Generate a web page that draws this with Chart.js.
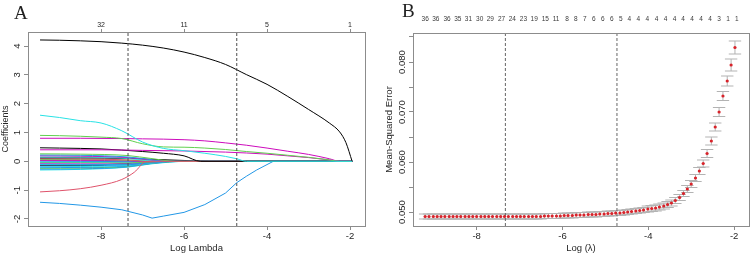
<!DOCTYPE html>
<html>
<head>
<meta charset="utf-8">
<script src="https://cdn.jsdelivr.net/npm/chart.js@4.4.0/dist/chart.umd.min.js"></script>
<style>
  body { margin: 0; background: #fff; width: 753px; height: 254px; position: relative; overflow: hidden; }
  .panel { position: absolute; top: 0; height: 254px; }
  #wrapA { left: 0; width: 376px; }
  #wrapB { left: 376px; width: 377px; }
  .tag { position: absolute; font-family: "Liberation Serif", serif; font-size: 19px; color: #222; line-height: 1; }
</style>
</head>
<body>
<div class="panel" id="wrapA"><canvas id="chartA" width="376" height="254"></canvas></div>
<div class="panel" id="wrapB"><canvas id="chartB" width="377" height="254"></canvas></div>
<div class="tag" style="left:14px;top:3px;">A</div>
<div class="tag" style="left:402px;top:1px;">B</div>
<script>
// --- Panel A: coefficient paths, each path is [logLambda, coefficient] ---
const PALETTE = ['#000000', '#DF536B', '#61D04F', '#2297E6', '#28E2E5', '#CD0BBC'];

const pathCyan = [[-9.47,1.60],[-9,1.52],[-8.5,1.41],[-8,1.33],[-7.5,1.06],[-7,0.67],[-6.5,0.45],[-6,0.37],[-5.5,0.28],[-5,0.17],[-4.73,0.09],[-4.5,0],[-1.95,0]];
const pathBlack = [[-9.47,4.21],[-9,4.20],[-8.5,4.18],[-8,4.15],[-7.5,4.10],[-7,4.03],[-6.5,3.93],[-6,3.79],[-5.5,3.60],[-5,3.36],[-4.5,3.01],[-4,2.67],[-3.5,2.25],[-3,1.80],[-2.5,1.33],[-2.25,1.02],[-2.1,0.65],[-1.95,0]];
const pathGreen = [[-9.47,0.90],[-9,0.89],[-8.5,0.87],[-8,0.84],[-7.5,0.79],[-7,0.61],[-6.5,0.50],[-6,0.49],[-5.5,0.46],[-5,0.41],[-4.5,0.34],[-4,0.28],[-3.5,0.21],[-3,0.14],[-2.5,0.05],[-2.25,0],[-1.95,0]];
const pathMagenta = [[-9.47,0.80],[-8.5,0.80],[-7.5,0.79],[-7,0.78],[-6.5,0.77],[-6,0.75],[-5.5,0.71],[-5,0.64],[-4.5,0.56],[-4,0.46],[-3.5,0.35],[-3,0.24],[-2.5,0.09],[-2.25,0],[-1.95,0]];
const pathPurple = [[-9.47,0.40],[-8,0.40],[-7,0.38],[-6,0.36],[-5,0.32],[-4.5,0.29],[-4,0.25],[-3.5,0.19],[-3,0.13],[-2.5,0.05],[-2.25,0],[-1.95,0]];
const pathDark = [[-9.47,0.47],[-9,0.46],[-8,0.43],[-7.5,0.39],[-7,0.34],[-6.5,0.28],[-6,0.19],[-5.6,0],[-1.95,0]];
const pathRed = [[-9.47,-1.06],[-9,-1.02],[-8.5,-0.95],[-8,-0.83],[-7.5,-0.63],[-7.2,-0.38],[-6.9,0],[-1.95,0]];
const pathBlue = [[-9.47,-1.42],[-9,-1.46],[-8.5,-1.52],[-8,-1.59],[-7.5,-1.68],[-7,-1.86],[-6.77,-1.97],[-6.5,-1.90],[-6,-1.77],[-5.5,-1.50],[-5,-1.10],[-4.73,-0.74],[-4.5,-0.52],[-4.25,-0.30],[-3.85,0],[-1.95,0]];

// small coefficients bundled around zero
const smallPaths = [
  [[-9.47,0.26],[-8.5,0.25],[-7.35,0.20],[-6.8,0.10],[-6.2,0],[-1.95,0]],
  [[-9.47,0.22],[-8.5,0.21],[-7.35,0.15],[-6.8,0.06],[-6.5,0],[-1.95,0]],
  [[-9.47,0.19],[-8.5,0.18],[-7.35,0.13],[-6.8,0.05],[-6.3,0],[-1.95,0]],
  [[-9.47,0.15],[-8.5,0.15],[-7.35,0.10],[-6.9,0.03],[-6.6,0],[-1.95,0]],
  [[-9.47,0.12],[-8.5,0.12],[-7.35,0.10],[-6.8,0.07],[-6.0,0.03],[-5.4,0],[-1.95,0]],
  [[-9.47,0.09],[-8.5,0.08],[-7.35,0.05],[-6.9,0],[-1.95,0]],
  [[-9.47,0.06],[-8.5,0.06],[-7.35,0.04],[-6.8,0.01],[-6.6,0],[-1.95,0]],
  [[-9.47,0.03],[-8.5,0.03],[-7.35,0.02],[-7.0,0],[-1.95,0]],
  [[-9.47,0.01],[-8.5,0.00],[-7.35,-0.01],[-7.0,0],[-1.95,0]],
  [[-9.47,-0.02],[-8.5,-0.02],[-7.35,-0.02],[-6.9,0],[-1.95,0]],
  [[-9.47,-0.04],[-8.5,-0.04],[-7.35,-0.05],[-6.8,-0.02],[-6.4,0],[-1.95,0]],
  [[-9.47,-0.06],[-8.5,-0.06],[-7.35,-0.06],[-6.8,-0.02],[-6.3,0],[-1.95,0]],
  [[-9.47,-0.09],[-8.5,-0.10],[-7.35,-0.10],[-6.8,-0.04],[-6.2,0],[-1.95,0]],
  [[-9.47,-0.11],[-8.5,-0.12],[-7.35,-0.09],[-6.9,-0.03],[-6.5,0],[-1.95,0]],
  [[-9.47,-0.13],[-8.5,-0.13],[-7.35,-0.08],[-6.6,0],[-1.95,0]],
  [[-9.47,-0.16],[-8.5,-0.15],[-7.35,-0.12],[-6.8,-0.05],[-6.4,0],[-1.95,0]],
  [[-9.47,-0.19],[-8.5,-0.18],[-7.35,-0.14],[-6.8,-0.06],[-6.3,0],[-1.95,0]],
  [[-9.47,-0.22],[-8.5,-0.21],[-7.35,-0.16],[-6.8,-0.07],[-6.2,0],[-1.95,0]],
  [[-9.47,-0.24],[-8.5,-0.23],[-7.35,-0.17],[-6.8,-0.07],[-6.1,0],[-1.95,0]],
  [[-9.47,-0.27],[-8.5,-0.26],[-7.35,-0.19],[-6.8,-0.08],[-6.0,0],[-1.95,0]],
  [[-9.47,-0.30],[-8.5,-0.28],[-7.35,-0.20],[-6.8,-0.09],[-5.9,0],[-1.95,0]]
];
const smallColors = [2, 3, 5, 4, 0, 1, 2, 5, 3, 4, 2, 5, 3, 4, 0, 3, 4, 3, 2, 3, 4];

const topTicksA = [-8, -6, -4, -2];
const topLabelsA = ['32', '11', '5', '1'];
const cutLinesA = [-7.35, -4.73];

// --- Panel B: cross-validation curve ---
const cvLogLambda = [
  -9.20,-9.11,-9.01,-8.92,-8.83,-8.74,-8.64,-8.55,-8.46,-8.37,
  -8.27,-8.18,-8.09,-8.00,-7.90,-7.81,-7.72,-7.63,-7.53,-7.44,
  -7.35,-7.26,-7.16,-7.07,-6.98,-6.89,-6.79,-6.70,-6.61,-6.51,
  -6.42,-6.33,-6.24,-6.14,-6.05,-5.96,-5.87,-5.77,-5.68,-5.59,
  -5.50,-5.40,-5.31,-5.22,-5.13,-5.03,-4.94,-4.85,-4.76,-4.66,
  -4.57,-4.48,-4.39,-4.29,-4.20,-4.11,-4.01,-3.92,-3.83,-3.74,
  -3.64,-3.55,-3.46,-3.37,-3.27,-3.18,-3.09,-3.00,-2.90,-2.81,
  -2.72,-2.63,-2.53,-2.44,-2.35,-2.26,-2.16,-2.07,-1.98
];
const cvMse = [
  0.0491,0.0491,0.0491,0.0491,0.0491,0.0491,0.0491,0.0491,0.0491,0.0491,
  0.0491,0.0491,0.0491,0.0491,0.0491,0.0491,0.0491,0.0491,0.0491,0.0491,
  0.0491,0.0491,0.0491,0.0491,0.0491,0.0491,0.0491,0.0491,0.0491,0.0491,
  0.0492,0.0492,0.0492,0.0492,0.0492,0.0493,0.0493,0.0493,0.0494,0.0494,
  0.0494,0.0495,0.0495,0.0495,0.0496,0.0496,0.0497,0.0497,0.0498,0.0498,
  0.0499,0.0500,0.0501,0.0502,0.0503,0.0504,0.0506,0.0507,0.0508,0.0510,
  0.0512,0.0515,0.0518,0.0523,0.0529,0.0537,0.0546,0.0556,0.0568,0.0582,
  0.0597,0.0617,0.0642,0.0670,0.0700,0.0732,0.0762,0.0794,0.0829
];
const cvSe = [
  0.0005,0.0005,0.0005,0.0005,0.0005,0.0005,0.0005,0.0005,0.0005,0.0005,
  0.0005,0.0005,0.0005,0.0005,0.0005,0.0005,0.0005,0.0005,0.0005,0.0005,
  0.0005,0.0005,0.0005,0.0005,0.0005,0.0005,0.0005,0.0005,0.0005,0.0005,
  0.0005,0.0005,0.0005,0.0005,0.0005,0.0005,0.0005,0.0005,0.0005,0.0005,
  0.0005,0.0005,0.0005,0.0005,0.0005,0.0005,0.0005,0.0005,0.0005,0.0005,
  0.0005,0.0005,0.0005,0.0005,0.0005,0.0005,0.0006,0.0006,0.0006,0.0006,
  0.0006,0.0006,0.0006,0.0006,0.0006,0.0006,0.0007,0.0007,0.0007,0.0007,
  0.0007,0.0008,0.0008,0.0008,0.0009,0.0009,0.0010,0.0012,0.0013
];
const topTicksB = [-9.20,-8.95,-8.69,-8.44,-8.19,-7.93,-7.68,-7.42,-7.17,-6.91,-6.66,-6.40,-6.15,
  -5.89,-5.69,-5.48,-5.27,-5.06,-4.85,-4.64,-4.44,-4.23,-4.02,-3.81,-3.60,-3.39,-3.19,-2.98,-2.77,-2.56,-2.35,-2.14,-1.94];
const topLabelsB = ['36','36','36','35','31','30','29','27','24','23','19','15','11',
  '8','8','7','6','6','6','5','4','4','4','4','4','4','4','4','4','4','3','1','1'];
const cutLinesB = [-7.33, -4.73];

// --- Shared styling ---
const FONT = '"Liberation Sans", Arial, sans-serif';
const AXIS_GREY = '#8c8c8c';
const TEXT = '#262626';

const boxPlugin = {
  id: 'box',
  afterDraw(chart) {
    const { ctx, chartArea: a } = chart;
    ctx.save();
    ctx.strokeStyle = AXIS_GREY;
    ctx.lineWidth = 1;
    ctx.strokeRect(Math.round(a.left) + 0.5, Math.round(a.top) + 0.5,
      Math.round(a.right - a.left), Math.round(a.bottom - a.top));
    ctx.restore();
  }
};

// error bars drawn under the points (caps are 2% of x range, like glmnet)
const errorBarPlugin = {
  id: 'errorBars',
  beforeDatasetsDraw(chart) {
    const { ctx, scales: { x, y } } = chart;
    const capW = (Math.max(...cvLogLambda) - Math.min(...cvLogLambda)) * 0.02;
    ctx.save();
    ctx.strokeStyle = '#b3b3b3';
    ctx.lineWidth = 1;
    ctx.beginPath();
    cvLogLambda.forEach((lx, i) => {
      const px = x.getPixelForValue(lx);
      const hi = y.getPixelForValue(cvMse[i] + cvSe[i]);
      const lo = y.getPixelForValue(cvMse[i] - cvSe[i]);
      const l = x.getPixelForValue(lx - capW), r = x.getPixelForValue(lx + capW);
      ctx.moveTo(px, hi); ctx.lineTo(px, lo);
      ctx.moveTo(l, hi); ctx.lineTo(r, hi);
      ctx.moveTo(l, lo); ctx.lineTo(r, lo);
    });
    ctx.stroke();
    ctx.restore();
  }
};

function fixedTicks(values) {
  return scale => { scale.ticks = values.map(v => ({ value: v })); };
}
function fitSize(prop, size) {
  return scale => { scale[prop] = size; };
}
function tickGrid(len) {
  return { display: true, drawOnChartArea: false, drawTicks: true, tickLength: len, color: AXIS_GREY };
}

function cutLineDatasets(xs, yMin, yMax, color) {
  return xs.map(v => ({
    data: [{ x: v, y: yMin }, { x: v, y: yMax }],
    borderColor: color, borderWidth: 1, borderDash: [3, 2],
    pointRadius: 0, tension: 0
  }));
}

// --- Chart A ---
const A_X = [-9.76, -1.64];
const A_Y = [-2.243, 4.486];
const mainPaths = [
  [pathCyan, 4], [pathBlack, 0], [pathGreen, 2], [pathMagenta, 5],
  [pathPurple, 5], [pathDark, 0], [pathRed, 1]
];
const datasetsA = [];
mainPaths.forEach(([p, c]) => datasetsA.push({
  data: p.map(([x, y]) => ({ x, y })), borderColor: PALETTE[c], borderWidth: 1,
  pointRadius: 0, cubicInterpolationMode: 'monotone'
}));
datasetsA.push({
  data: pathBlue.map(([x, y]) => ({ x, y })), borderColor: PALETTE[3], borderWidth: 1,
  pointRadius: 0, tension: 0
});
smallPaths.forEach((p, i) => datasetsA.push({
  data: p.map(([x, y]) => ({ x, y })), borderColor: PALETTE[smallColors[i]], borderWidth: 1,
  pointRadius: 0, cubicInterpolationMode: 'monotone'
}));
cutLineDatasets(cutLinesA, A_Y[0], A_Y[1], '#4d4d4d').forEach(d => datasetsA.unshift(d));

new Chart(document.getElementById('chartA'), {
  type: 'line',
  data: { datasets: datasetsA },
  plugins: [boxPlugin],
  options: {
    responsive: false,
    animation: false,
    layout: { padding: { right: 11, left: 0, top: 0, bottom: 0 } },
    plugins: { legend: { display: false }, tooltip: { enabled: false } },
    scales: {
      x: {
        type: 'linear', position: 'bottom', min: A_X[0], max: A_X[1],
        afterBuildTicks: fixedTicks([-8, -6, -4, -2]),
        afterFit: fitSize('height', 28),
        grid: tickGrid(4), border: { display: false },
        ticks: { color: TEXT, font: { family: FONT, size: 9.5 }, padding: 1, maxRotation: 0 },
        title: { display: true, text: 'Log Lambda', color: TEXT, font: { family: FONT, size: 9.5 }, padding: 0 }
      },
      xTop: {
        type: 'linear', position: 'top', min: A_X[0], max: A_X[1],
        afterBuildTicks: fixedTicks(topTicksA),
        afterFit: fitSize('height', 32),
        grid: tickGrid(3), border: { display: false },
        ticks: {
          color: TEXT, font: { family: FONT, size: 7 }, padding: 0, maxRotation: 0, autoSkip: false,
          callback: v => topLabelsA[topTicksA.indexOf(v)]
        }
      },
      y: {
        type: 'linear', min: A_Y[0], max: A_Y[1],
        afterBuildTicks: fixedTicks([-2, -1, 0, 1, 2, 3, 4]),
        afterFit: fitSize('width', 28),
        grid: tickGrid(4), border: { display: false },
        ticks: { color: TEXT, font: { family: FONT, size: 9.5 }, padding: 2, minRotation: 90, maxRotation: 90, crossAlign: 'center' },
        title: { display: true, text: 'Coefficients', color: TEXT, font: { family: FONT, size: 9 }, padding: 0 }
      }
    }
  }
});

// --- Chart B ---
const B_X = [-9.483, -1.653];
const B_Y = [0.0472, 0.0858];
const datasetsB = cutLineDatasets(cutLinesB, B_Y[0], B_Y[1], '#666666');
datasetsB.unshift({
  data: cvLogLambda.map((x, i) => ({ x, y: cvMse[i] })),
  showLine: false, pointRadius: 1.6, pointBorderWidth: 0,
  pointBackgroundColor: '#d8232a', borderColor: '#d8232a'
});

new Chart(document.getElementById('chartB'), {
  type: 'line',
  data: { datasets: datasetsB },
  plugins: [boxPlugin, errorBarPlugin],
  options: {
    responsive: false,
    animation: false,
    layout: { padding: { right: 2, left: 0, top: 0, bottom: 0 } },
    plugins: { legend: { display: false }, tooltip: { enabled: false } },
    scales: {
      x: {
        type: 'linear', position: 'bottom', min: B_X[0], max: B_X[1],
        afterBuildTicks: fixedTicks([-8, -6, -4, -2]),
        afterFit: fitSize('height', 28),
        grid: tickGrid(4), border: { display: false },
        ticks: { color: TEXT, font: { family: FONT, size: 9.5 }, padding: 1, maxRotation: 0 },
        title: { display: true, text: 'Log (λ)', color: TEXT, font: { family: FONT, size: 9.5 }, padding: 0 }
      },
      xTop: {
        type: 'linear', position: 'top', min: B_X[0], max: B_X[1],
        afterBuildTicks: fixedTicks(topTicksB),
        afterFit: fitSize('height', 33),
        grid: { display: false }, border: { display: false },
        ticks: {
          color: '#3a3a3a', font: { family: FONT, size: 6.5 }, padding: 2, maxRotation: 0, autoSkip: false,
          callback: (v, i) => topLabelsB[i]
        }
      },
      y: {
        type: 'linear', min: B_Y[0], max: B_Y[1],
        afterBuildTicks: fixedTicks([0.050, 0.055, 0.060, 0.065, 0.070, 0.075, 0.080, 0.085]),
        afterFit: fitSize('width', 37),
        grid: tickGrid(4), border: { display: false },
        ticks: {
          color: TEXT, font: { family: FONT, size: 9.5 }, padding: -5, minRotation: 90, maxRotation: 90, crossAlign: 'center',
          callback: v => (Math.round(v * 1000) % 10 === 0 ? v.toFixed(3) : '')
        },
        title: { display: true, text: 'Mean-Squared Error', color: TEXT, font: { family: FONT, size: 9.5 }, padding: { top: 8 } }
      }
    }
  }
});
</script>
</body>
</html>
